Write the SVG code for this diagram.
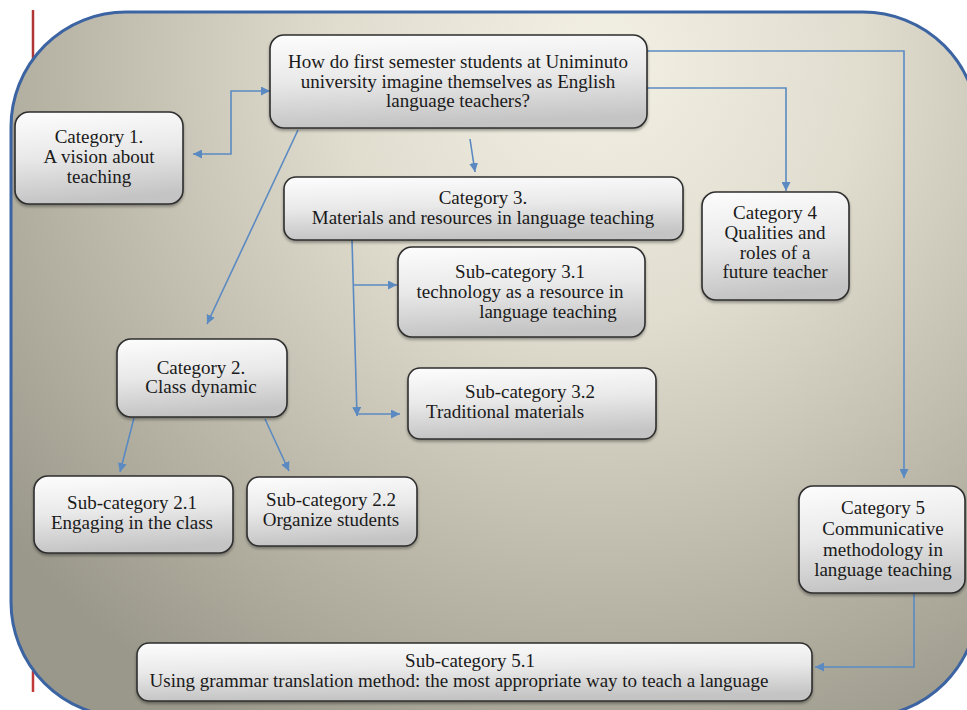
<svg xmlns="http://www.w3.org/2000/svg" width="967" height="710" viewBox="0 0 967 710">
<defs>
<radialGradient id="bg" gradientUnits="userSpaceOnUse" cx="600" cy="60" r="760">
<stop offset="0" stop-color="#f3f1e4"/>
<stop offset="0.35" stop-color="#e0ddcf"/>
<stop offset="0.7" stop-color="#bab7a8"/>
<stop offset="1" stop-color="#9a988a"/>
</radialGradient>
<linearGradient id="nodefill" x1="0" y1="0" x2="0.15" y2="1">
<stop offset="0" stop-color="#fdfdfd"/>
<stop offset="0.5" stop-color="#e9e9e9"/>
<stop offset="1" stop-color="#c4c4c4"/>
</linearGradient>
<filter id="sh" x="-10%" y="-10%" width="120%" height="130%">
<feGaussianBlur in="SourceAlpha" stdDeviation="1.5"/>
<feOffset dx="0" dy="2" result="o"/>
<feComponentTransfer><feFuncA type="linear" slope="0.35"/></feComponentTransfer>
<feMerge><feMergeNode/><feMergeNode in="SourceGraphic"/></feMerge>
</filter>
<marker id="ah" viewBox="0 0 10 10" refX="10" refY="5" markerWidth="9" markerHeight="9" markerUnits="userSpaceOnUse" orient="auto-start-reverse">
<path d="M0,0 L10,5 L0,10 z" fill="#5b8ac2"/>
</marker>
</defs>
<style>
.node rect{fill:url(#nodefill);stroke:#2e2e2e;stroke-width:1.6;filter:url(#sh)}
.node text{font-family:"Liberation Serif","Times New Roman",serif;font-size:19px;fill:#1a1a1a;text-anchor:middle}
.conn path{fill:none;stroke:#5b8ac2;stroke-width:1.6}
.arr{marker-end:url(#ah)}
</style>
<rect x="0" y="0" width="967" height="710" fill="#ffffff"/>
<g id="frame">
<line x1="33" y1="10" x2="33" y2="62" stroke="#b03535" stroke-width="2.5"/>
<line x1="33" y1="671" x2="33" y2="692" stroke="#c03a3a" stroke-width="2.5"/>
<rect x="11" y="12" width="967" height="705" rx="115" ry="115" fill="url(#bg)" stroke="#3c64a2" stroke-width="3"/>
</g>
<g class="conn" id="connectors">
<path d="M193,154 H231 V91 H270" marker-start="url(#ah)" marker-end="url(#ah)"/>
<path class="arr" d="M470,139 L475,172"/>
<path class="arr" d="M298,130 L207,324"/>
<path class="arr" d="M647,88 H786 V191"/>
<path class="arr" d="M647,51 H904 V478"/>
<path class="arr" d="M134,418 L120,472"/>
<path class="arr" d="M265,419 L289,471"/>
<path class="arr" d="M352,240 L357,416"/>
<path class="arr" d="M354,285 H397"/>
<path class="arr" d="M357,414 H400"/>
<path class="arr" d="M914,593 V667 H815"/>
</g>
<g class="node" id="main">
<rect x="270" y="35" width="377" height="93" rx="14"/>
<text x="458" y="68">How do first semester students at Uniminuto</text>
<text x="458" y="88">university imagine themselves as English</text>
<text x="458" y="107">language teachers?</text>
</g>
<g class="node" id="cat1">
<rect x="15" y="112" width="168" height="92" rx="14"/>
<text x="99" y="143">Category 1.</text>
<text x="99" y="163">A vision about</text>
<text x="99" y="183">teaching</text>
</g>
<g class="node" id="cat3">
<rect x="284" y="177" width="399" height="63" rx="12"/>
<text x="483" y="204">Category 3.</text>
<text x="483" y="224">Materials and resources in language teaching</text>
</g>
<g class="node" id="cat4">
<rect x="702" y="192" width="147" height="108" rx="14"/>
<text x="775" y="219">Category 4</text>
<text x="775" y="239">Qualities and</text>
<text x="775" y="259">roles of a</text>
<text x="775" y="278">future teacher</text>
</g>
<g class="node" id="sub31">
<rect x="398" y="247" width="247" height="90" rx="14"/>
<text x="520" y="278">Sub-category 3.1</text>
<text x="520" y="298">technology as a resource in</text>
<text x="548" y="318">language teaching</text>
</g>
<g class="node" id="cat2">
<rect x="117" y="339" width="170" height="78" rx="14"/>
<text x="201" y="374">Category 2.</text>
<text x="201" y="393">Class dynamic</text>
</g>
<g class="node" id="sub32">
<rect x="408" y="368" width="248" height="71" rx="12"/>
<text x="530" y="398">Sub-category 3.2</text>
<text x="426" y="418" style="text-anchor:start">Traditional materials</text>
</g>
<g class="node" id="sub21">
<rect x="34" y="476" width="199" height="77" rx="14"/>
<text x="132" y="509">Sub-category 2.1</text>
<text x="132" y="529">Engaging in the class</text>
</g>
<g class="node" id="sub22">
<rect x="247" y="477" width="170" height="69" rx="12"/>
<text x="331" y="506">Sub-category 2.2</text>
<text x="331" y="526">Organize students</text>
</g>
<g class="node" id="cat5">
<rect x="799" y="486" width="166" height="107" rx="14"/>
<text x="883" y="514">Category 5</text>
<text x="883" y="535">Communicative</text>
<text x="883" y="556">methodology in</text>
<text x="883" y="576">language teaching</text>
</g>
<g class="node" id="sub51">
<rect x="137" y="643" width="675" height="58" rx="12"/>
<text x="470" y="667">Sub-category 5.1</text>
<text x="459" y="687">Using grammar translation method: the most appropriate way to teach a language</text>
</g>
</svg>
